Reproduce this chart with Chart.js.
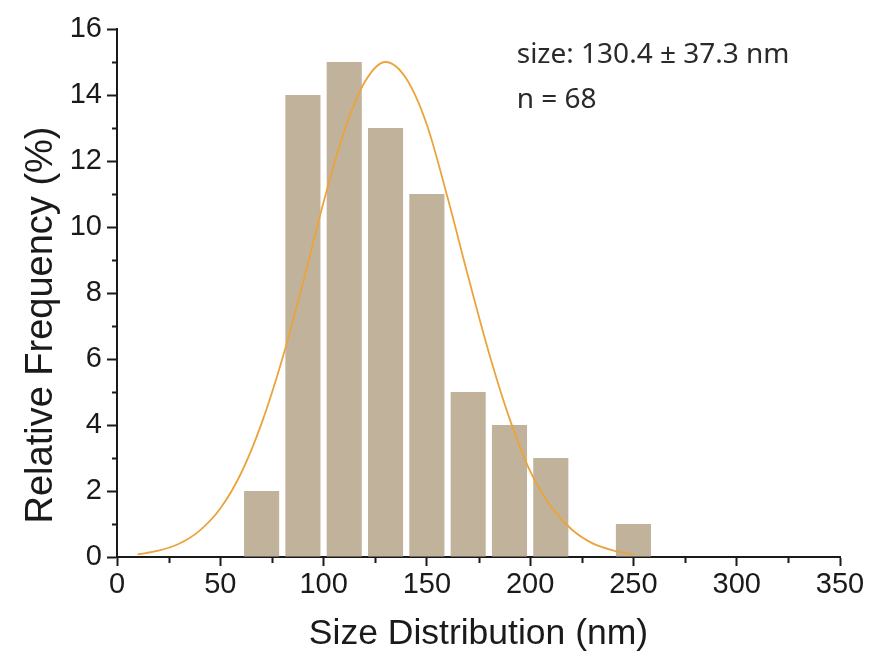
<!DOCTYPE html>
<html>
<head>
<meta charset="utf-8">
<script src="https://cdn.jsdelivr.net/npm/chart.js@4/dist/chart.umd.min.js"></script>
<style>
  html, body { margin: 0; padding: 0; background: #fff; }
  #wrap { width: 872px; height: 663px; }
</style>
</head>
<body>
<div id="wrap"><canvas id="hist"></canvas></div>
<script>
var BAR = "#C1B39B"
var CURVE = "#EBA43C"
var INK = "#1a1a1a"
var FONT = "'Liberation Sans', Arial, sans-serif"

// histogram bins (centre of each 20 nm bin) and relative frequency (%)
var binCentres = [70, 90, 110, 130, 150, 170, 190, 210, 250]
var frequency = [2, 14, 15, 13, 11, 5, 4, 3, 1]

// fitted curve
var fitX = [10, 20, 30, 40, 50, 60, 70, 80, 90, 100, 110, 120, 130,
            140, 150, 160, 170, 180, 190, 200, 210, 220, 230, 240, 250]
var fitY = [0.08, 0.19, 0.4, 0.8, 1.47, 2.53, 4.05, 6.0, 8.3, 10.75, 12.9, 14.4, 15.0,
            14.5, 13.1, 10.9, 8.5, 6.2, 4.2, 2.6, 1.54, 0.84, 0.42, 0.2, 0.08]

var xTicks = [0, 50, 100, 150, 200, 250, 300, 350]
var yTicks = [0, 2, 4, 6, 8, 10, 12, 14, 16]
var xMinor = [25, 75, 125, 175, 225, 275, 325]
var yMinor = [1, 3, 5, 7, 9, 11, 13, 15]

var yTitle = "Relative Frequency (%)"
var noteLines = ["size: 130.4 \u00b1 37.3 nm", "n = 68"]

var barData = binCentres.map(function (x, i) { return { x: x, y: frequency[i] } })
var fitData = fitX.map(function (x, i) { return { x: x, y: fitY[i] } })

// minor ticks, y title and the text note
var extras = {
  id: "extras",
  afterDraw: function (chart) {
    var c = chart.ctx
    var xs = chart.scales.x
    var ys = chart.scales.y
    var area = chart.chartArea
    c.save()
    c.strokeStyle = INK
    c.lineWidth = 2
    c.beginPath()
    yMinor.forEach(function (v) {
      var py = Math.round(ys.getPixelForValue(v)) + 0.5
      c.moveTo(area.left - 5, py)
      c.lineTo(area.left, py)
    })
    xMinor.forEach(function (v) {
      var px = Math.round(xs.getPixelForValue(v)) + 0.5
      c.moveTo(px, area.bottom)
      c.lineTo(px, area.bottom + 6)
    })
    c.stroke()

    // y axis title, sits a little below the middle of the axis
    c.save()
    c.translate(42, 325)
    c.rotate(-Math.PI / 2)
    c.fillStyle = INK
    c.font = "38px " + FONT
    c.textAlign = "center"
    c.textBaseline = "middle"
    c.fillText(yTitle, 0, 0)
    c.restore()

    c.fillStyle = "#2a2a2a"
    c.font = "28px 'Noto Sans', 'Open Sans', sans-serif"
    c.textBaseline = "middle"
    c.textAlign = "left"
    c.fillText(noteLines[0], xs.getPixelForValue(193.5), ys.getPixelForValue(15.2))
    c.fillText(noteLines[1], xs.getPixelForValue(193.5), ys.getPixelForValue(13.85))
    c.restore()
  }
}

new Chart(document.getElementById("hist"), {
  type: "bar",
  data: {
    datasets: [{
      type: "line",
      data: fitData,
      borderColor: CURVE,
      borderWidth: 1.8,
      pointRadius: 0,
      cubicInterpolationMode: "monotone",
      fill: false,
      order: 0
    }, {
      type: "bar",
      data: barData,
      backgroundColor: BAR,
      borderWidth: 0,
      categoryPercentage: 1,
      barPercentage: 0.85,
      order: 1
    }]
  },
  options: {
    responsive: true,
    maintainAspectRatio: false,
    animation: false,
    layout: { padding: { top: 29, right: 32, left: 0, bottom: 0 } },
    plugins: { legend: { display: false }, tooltip: { enabled: false } },
    scales: {
      x: {
        type: "linear",
        min: 0,
        max: 350,
        offset: false,
        afterBuildTicks: function (s) { s.ticks = xTicks.map(function (v) { return { value: v } }) },
        afterFit: function (s) { s.height = 106 },
        border: { display: true, color: INK, width: 2 },
        grid: { offset: false, drawOnChartArea: false, drawTicks: true, tickLength: 9, tickColor: INK, tickWidth: 2 },
        ticks: { color: INK, padding: 2, maxRotation: 0, font: { family: FONT, size: 29 } },
        title: {
          display: true,
          text: "Size Distribution (nm)",
          color: INK,
          padding: { top: 0, bottom: 7 },
          font: { family: FONT, size: 35.5 }
        }
      },
      y: {
        min: 0,
        max: 16,
        afterBuildTicks: function (s) { s.ticks = yTicks.map(function (v) { return { value: v } }) },
        afterFit: function (s) { s.width = 117 },
        border: { display: true, color: INK, width: 2 },
        grid: { drawOnChartArea: false, drawTicks: true, tickLength: 10, tickColor: INK, tickWidth: 2 },
        ticks: { color: INK, padding: 5, font: { family: FONT, size: 29 } },
        title: { display: false }
      }
    }
  },
  plugins: [extras]
})
</script>
</body>
</html>
